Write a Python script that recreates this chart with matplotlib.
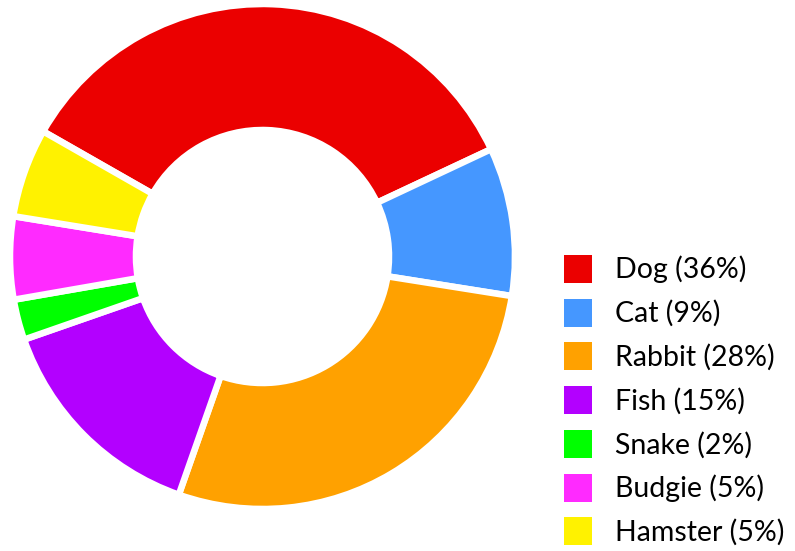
import matplotlib
matplotlib.use("Agg")
import matplotlib.pyplot as plt
from matplotlib.patches import Patch

pets = ["Dog", "Cat", "Rabbit", "Fish", "Snake", "Budgie", "Hamster"]
shares = [34.8, 9.5, 27.9, 14.3, 2.6, 5.3, 5.7]
legend_pct = [36, 9, 28, 15, 2, 5, 5]
colors = ["#EB0000", "#4597FF", "#FFA100", "#B300FF", "#00FF00", "#FF2AFF", "#FFF200"]

plt.rcParams["font.family"] = ["Lato", "DejaVu Sans"]

W, H = 795, 551
fig = plt.figure(figsize=(W / 100, H / 100), dpi=100)
ax = fig.add_axes([0, 0, 1, 1])

# donut, center and radii measured in pixels
cx, cy = 262.5, H - 256.5
R = 252.5
ax.pie(shares, colors=colors, startangle=150.3, counterclock=False,
       center=(cx, cy), radius=R,
       wedgeprops=dict(width=R - 126.5, edgecolor="white", linewidth=4.7))
ax.set_xlim(0, W)
ax.set_ylim(0, H)
ax.set_aspect("equal")
ax.axis("off")

handles = [Patch(facecolor=c, edgecolor="none") for c in colors]
labels = [f"{p} ({v}%)" for p, v in zip(pets, legend_pct)]
fs = 20.5
fpx = fs * 100 / 72
hh = (28 / fpx - 0.245) / 0.65
ax.legend(handles, labels, loc="upper left",
          bbox_to_anchor=(541 / W, 1 - 232 / H), bbox_transform=fig.transFigure,
          frameon=False, fontsize=fs,
          handlelength=28 / fpx, handleheight=hh,
          handletextpad=0.8, labelspacing=0.53, borderpad=0.3)

fig.savefig("out.png", dpi=100)
